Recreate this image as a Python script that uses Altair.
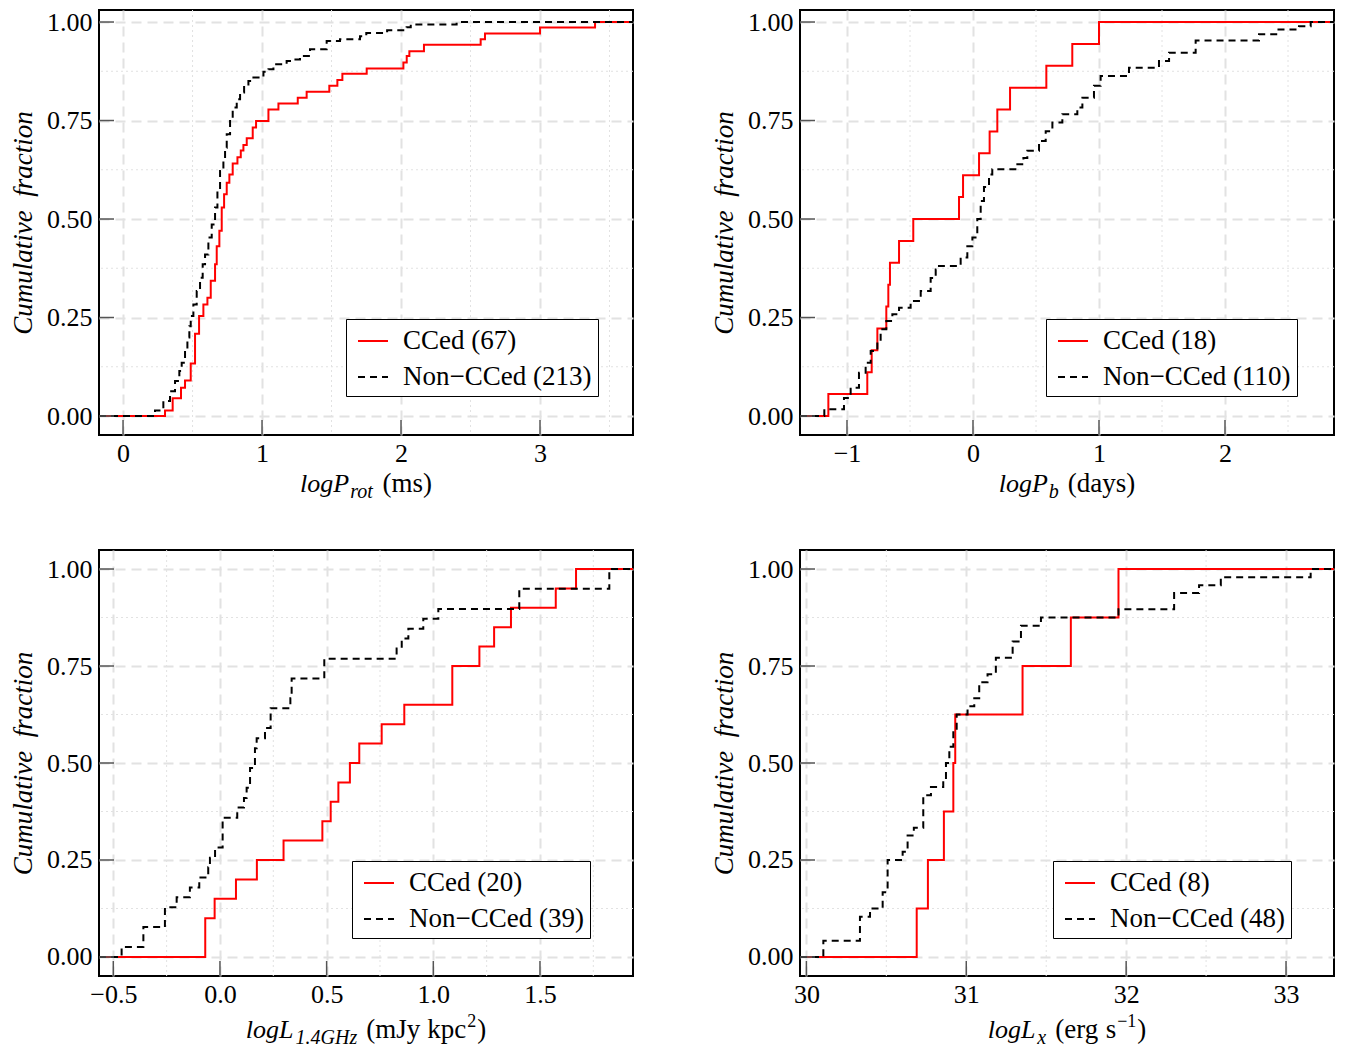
import altair as alt
import pandas as pd

FONT = "Liberation Serif"

# ---------------- data ----------------
# Panel 1: log P_rot (ms)
p1_red_x = [0.302, 0.357, 0.417, 0.446, 0.487, 0.518, 0.547, 0.578, 0.607, 0.631, 0.662, 0.674, 0.693,
            0.710, 0.727, 0.746, 0.765, 0.789, 0.823, 0.847, 0.866, 0.890, 0.933, 0.957, 1.046, 1.118,
            1.257, 1.321, 1.484, 1.542, 1.578, 1.753, 2.017, 2.041, 2.060, 2.165, 2.573, 2.604, 3.000, 3.396]
p1_red_y = [0.014, 0.045, 0.072, 0.090, 0.133, 0.209, 0.254, 0.283, 0.300, 0.343, 0.385, 0.431, 0.470,
            0.529, 0.563, 0.592, 0.613, 0.641, 0.657, 0.674, 0.688, 0.705, 0.732, 0.749, 0.778, 0.793,
            0.808, 0.823, 0.838, 0.853, 0.869, 0.882, 0.897, 0.914, 0.926, 0.942, 0.956, 0.971, 0.986, 1.000]
p1_blk_x = [0.230, 0.290, 0.338, 0.374, 0.405, 0.422, 0.446, 0.463, 0.477, 0.487, 0.506, 0.530, 0.554,
            0.573, 0.590, 0.614, 0.638, 0.662, 0.679, 0.698, 0.722, 0.734, 0.746, 0.770, 0.789, 0.818,
            0.842, 0.871, 0.902, 0.938, 1.010, 1.046, 1.082, 1.177, 1.225, 1.273, 1.345, 1.465, 1.561,
            1.705, 1.750, 1.900, 2.040, 2.070, 2.400]
p1_blk_y = [0.014, 0.038, 0.063, 0.089, 0.114, 0.135, 0.165, 0.199, 0.228, 0.254, 0.283, 0.317, 0.351,
            0.385, 0.410, 0.453, 0.486, 0.529, 0.571, 0.622, 0.647, 0.681, 0.715, 0.757, 0.783, 0.804,
            0.821, 0.838, 0.850, 0.859, 0.874, 0.880, 0.893, 0.901, 0.905, 0.914, 0.931, 0.952, 0.956,
            0.964, 0.972, 0.979, 0.987, 0.994, 1.000]

# Panel 2: log P_b (days)
p2_red_x = [-1.148, -0.839, -0.804, -0.759, -0.688, -0.672, -0.659, -0.587, -0.474, -0.111, -0.079,
            0.048, 0.132, 0.193, 0.294, 0.582, 0.788, 1.000]
p2_red_y = [0.056, 0.111, 0.167, 0.222, 0.278, 0.333, 0.389, 0.444, 0.500, 0.556, 0.611, 0.667, 0.722,
            0.778, 0.833, 0.889, 0.944, 1.000]
p2_blk_x = [-1.180, -1.024, -0.971, -0.905, -0.852, -0.812, -0.759, -0.733, -0.688, -0.640, -0.587,
            -0.495, -0.415, -0.336, -0.296, -0.270, -0.098, -0.045, -0.005, 0.034, 0.061, 0.087, 0.127,
            0.153, 0.352, 0.400, 0.431, 0.524, 0.577, 0.630, 0.709, 0.828, 0.868, 0.960, 1.013, 1.238,
            1.476, 1.556, 1.767, 2.270, 2.415, 2.587, 2.680]
p2_blk_y = [0.017, 0.046, 0.072, 0.110, 0.135, 0.165, 0.190, 0.220, 0.241, 0.258, 0.275, 0.292, 0.317,
            0.350, 0.372, 0.381, 0.402, 0.431, 0.453, 0.500, 0.546, 0.581, 0.613, 0.626, 0.639, 0.655,
            0.673, 0.698, 0.723, 0.745, 0.766, 0.783, 0.808, 0.838, 0.863, 0.884, 0.901, 0.922, 0.953,
            0.969, 0.981, 0.989, 1.000]

# Panel 3: log L_1.4GHz (mJy kpc^2)
p3_red_x = [-0.069, -0.025, 0.075, 0.173, 0.298, 0.480, 0.519, 0.555, 0.609, 0.653, 0.758, 0.864,
            1.089, 1.216, 1.285, 1.364, 1.574, 1.669]
p3_red_y = [0.10, 0.15, 0.20, 0.25, 0.30, 0.35, 0.40, 0.45, 0.50, 0.55, 0.60, 0.65, 0.75, 0.80, 0.85,
            0.90, 0.95, 1.00]
p3_blk_x = [-0.461, -0.359, -0.258, -0.203, -0.141, -0.097, -0.055, -0.047, -0.023, 0.0125, 0.081,
            0.1125, 0.125, 0.141, 0.164, 0.172, 0.211, 0.2375, 0.330, 0.336, 0.489, 0.828, 0.852, 0.883,
            0.953, 1.0235, 1.403, 1.825]
p3_blk_y = [0.026, 0.077, 0.128, 0.154, 0.179, 0.205, 0.231, 0.256, 0.282, 0.359, 0.385, 0.410, 0.436,
            0.487, 0.538, 0.564, 0.590, 0.641, 0.667, 0.718, 0.769, 0.795, 0.821, 0.846, 0.872, 0.897,
            0.949, 1.000]

# Panel 4: log L_x (erg s^-1)
p4_red_x = [30.690, 30.760, 30.860, 30.919, 30.931, 31.352, 31.654, 31.952]
p4_red_y = [0.125, 0.250, 0.375, 0.500, 0.625, 0.750, 0.875, 1.000]
p4_blk_x = [30.106, 30.335, 30.398, 30.477, 30.508, 30.602, 30.633, 30.672, 30.731, 30.779, 30.856,
            30.873, 30.894, 30.919, 30.940, 31.008, 31.050, 31.081, 31.133, 31.185, 31.290, 31.342,
            31.467, 31.952, 32.300, 32.456, 32.592, 33.154]
p4_blk_y = [0.042, 0.104, 0.125, 0.167, 0.250, 0.271, 0.313, 0.333, 0.417, 0.438, 0.458, 0.500, 0.542,
            0.583, 0.625, 0.646, 0.667, 0.708, 0.729, 0.771, 0.813, 0.854, 0.875, 0.896, 0.938, 0.958,
            0.979, 1.000]

legend_labels = [["CCed (67)", "Non\u2212CCed (213)"],
                 ["CCed (18)", "Non\u2212CCed (110)"],
                 ["CCed (20)", "Non\u2212CCed (39)"],
                 ["CCed (8)", "Non\u2212CCed (48)"]]

x_ticks = [[0, 1, 2, 3], [-1, 0, 1, 2], [-0.5, 0.0, 0.5, 1.0, 1.5], [30, 31, 32, 33]]
x_minor = [[0.5, 1.5, 2.5, 3.5], [-0.5, 0.5, 1.5, 2.5], [-0.25, 0.25, 0.75, 1.25, 1.75], [30.5, 31.5, 32.5]]
x_formats = ["d", "d", ".1f", "d"]
x_domains = [[-0.173, 3.669], [-1.373, 2.865], [-0.567, 1.936], [29.96, 33.3]]
y_ticks = [0.0, 0.25, 0.5, 0.75, 1.0]
y_minor = [0.125, 0.375, 0.625, 0.875]
y_title = "Cumulative\u2002fraction"

# axis title pieces: (text, size, italic, baseline shift, gap after)
x_titles = [
    [("logP", 26, True, 0, 1), ("rot", 20, True, 6, 9), ("(ms)", 27, False, 0, 0)],
    [("logP", 26, True, 0, 1), ("b", 20, True, 6, 9), ("(days)", 27, False, 0, 0)],
    [("logL", 26, True, 0, 2), ("1.4GHz", 20, True, 6, 9), ("(mJy", 27, False, 0, 7),
     ("kpc", 27, False, 0, 1), ("2", 18, False, -11, 1), (")", 27, False, 0, 0)],
    [("logL", 26, True, 0, 2), ("x", 20, True, 6, 9), ("(erg", 27, False, 0, 7),
     ("s", 27, False, 0, 1), ("\u22121", 18, False, -11, 1), (")", 27, False, 0, 0)],
]

W_ROMAN = {" ": .25, "(": .333, ")": .333, "m": .778, "s": .389, "d": .5, "a": .444, "y": .5,
           "J": .389, "k": .5, "p": .5, "c": .444, "e": .444, "r": .333, "g": .5, "2": .5,
           "1": .5, "\u2212": .564}
W_ITAL = {"l": .278, "o": .5, "g": .5, "P": .611, "L": .556, "r": .389, "t": .278, "b": .5,
          "x": .444, "1": .5, ".": .25, "4": .5, "G": .722, "H": .722, "z": .389}


def text_width(s, size, italic):
    tbl = W_ITAL if italic else W_ROMAN
    return sum(tbl.get(ch, 0.5) for ch in s) * size


W = 534
RED = "#ff0000"
GRID = "#e2e2e2"


def panel(i, ydom, H, leg_xy, title_off):
    xdom = x_domains[i]
    xs = alt.Scale(domain=xdom, nice=False, zero=False)
    ys = alt.Scale(domain=ydom, nice=False, zero=False)
    labs = legend_labels[i]
    series = [(labs[0], [p1_red_x, p2_red_x, p3_red_x, p4_red_x][i], [p1_red_y, p2_red_y, p3_red_y, p4_red_y][i]),
              (labs[1], [p1_blk_x, p2_blk_x, p3_blk_x, p4_blk_x][i], [p1_blk_y, p2_blk_y, p3_blk_y, p4_blk_y][i])]

    leg = alt.Legend(title=None, orient="none", legendX=leg_xy[0], legendY=leg_xy[1],
                     strokeColor="black", fillColor="white", padding=6, cornerRadius=0,
                     labelFont=FONT, labelFontSize=27, labelColor="black", labelOffset=14,
                     symbolType="stroke", symbolSize=900, symbolStrokeWidth=2, symbolOffset=5,
                     rowPadding=7, labelLimit=400)
    cscale = alt.Scale(domain=labs, range=[RED, "#000000"])
    dscale = alt.Scale(domain=labs, range=[[1, 0], [7, 5]])

    x_axis = alt.Axis(values=x_ticks[i], format=x_formats[i], title=None, grid=True,
                      ticks=False, tickSize=0, domain=False, labelFontSize=26,
                      labelPadding=5, labelFont=FONT, labelColor="black",
                      gridDash=[10, 6], gridColor=GRID, gridWidth=2)
    y_axis = alt.Axis(values=y_ticks, format=".2f", title=y_title, grid=True,
                      ticks=False, tickSize=0, domain=False, labelFontSize=26,
                      labelPadding=7, labelFont=FONT, labelColor="black",
                      titleFont=FONT, titleFontSize=27, titleFontStyle="italic",
                      titleFontWeight="normal", titleColor="black", titlePadding=9,
                      gridDash=[10, 6], gridColor=GRID, gridWidth=2)

    layers = []
    # minor dotted grid
    layers.append(alt.Chart(pd.DataFrame({"v": x_minor[i]})).mark_rule(
        color=GRID, strokeWidth=1, strokeDash=[2, 3]).encode(x=alt.X("v:Q", scale=xs, axis=x_axis)))
    layers.append(alt.Chart(pd.DataFrame({"v": y_minor})).mark_rule(
        color=GRID, strokeWidth=1, strokeDash=[2, 3]).encode(y=alt.Y("v:Q", scale=ys, axis=y_axis)))

    for k, (lab, xv, yv) in enumerate(series):
        px = [xdom[0]] + list(xv) + [xdom[1]]
        py = [0.0] + list(yv) + [1.0]
        df = pd.DataFrame({"x": px, "y": py, "s": lab, "o": list(range(len(px)))})
        layers.append(alt.Chart(df).mark_line(interpolate="step-after", strokeWidth=2, clip=True).encode(
            x=alt.X("x:Q", scale=xs, axis=x_axis),
            y=alt.Y("y:Q", scale=ys, axis=y_axis),
            color=alt.Color("s:N", scale=cscale, legend=leg),
            strokeDash=alt.StrokeDash("s:N", scale=dscale, legend=leg),
            order=alt.Order("o:Q"),
        ))

    # inward ticks
    layers.append(alt.Chart(pd.DataFrame({"v": x_ticks[i]})).mark_rule(color="#555555", strokeWidth=1.5).encode(
        x=alt.X("v:Q", scale=xs, axis=x_axis), y=alt.value(H), y2=alt.value(H - 15)))
    layers.append(alt.Chart(pd.DataFrame({"v": y_ticks})).mark_rule(color="#555555", strokeWidth=1.5).encode(
        y=alt.Y("v:Q", scale=ys, axis=y_axis), x=alt.value(0), x2=alt.value(15)))

    # x-axis title with sub/superscripts
    pieces = x_titles[i]
    total = sum(text_width(t, sz, it) + g for t, sz, it, dy, g in pieces)
    cx = W / 2 - total / 2
    for t, sz, it, dy, g in pieces:
        layers.append(alt.Chart(pd.DataFrame({"t": [t]})).mark_text(
            align="left", baseline="alphabetic", font=FONT, fontSize=sz,
            fontStyle="italic" if it else "normal", color="black").encode(
            x=alt.value(cx), y=alt.value(H + title_off + dy), text="t:N"))
        cx += text_width(t, sz, it) + g

    return alt.layer(*layers).properties(width=W, height=H)


top_ydom = [-0.0482, 1.0305]
bot_ydom = [-0.049, 1.049]
H_TOP = 425
H_BOT = 426

p1 = panel(0, top_ydom, H_TOP, (247, 309), 57)
p2 = panel(1, top_ydom, H_TOP, (246, 309), 57)
p3 = panel(2, bot_ydom, H_BOT, (253, 311), 62)
p4 = panel(3, bot_ydom, H_BOT, (253, 311), 62)

res = dict(x="independent", y="independent", color="independent", strokeDash="independent")
row1 = alt.hconcat(p1, p2, spacing=74).resolve_scale(**res).resolve_legend(color="independent", strokeDash="independent")
row2 = alt.hconcat(p3, p4, spacing=74).resolve_scale(**res).resolve_legend(color="independent", strokeDash="independent")
chart = alt.vconcat(row1, row2, spacing=45).resolve_scale(**res).resolve_legend(
    color="independent", strokeDash="independent").properties(padding=0, background="white").configure_view(
    stroke="black", strokeWidth=2)

chart.save("out.html", embed_options={"renderer": "svg", "actions": False})
